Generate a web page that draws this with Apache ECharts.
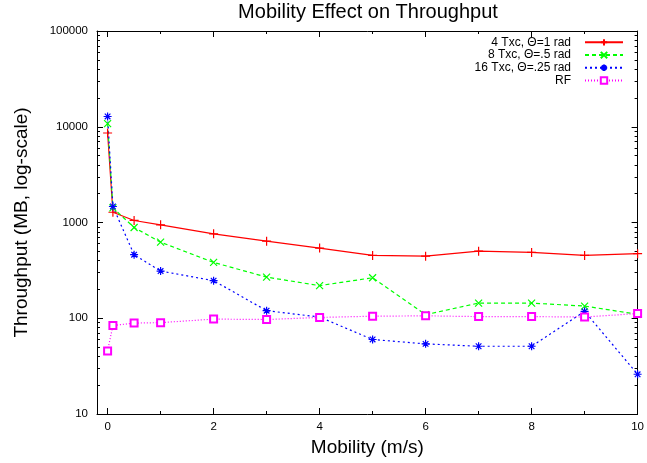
<!DOCTYPE html>
<html>
<head>
<meta charset="utf-8">
<script src="https://cdn.jsdelivr.net/npm/echarts@6/dist/echarts.min.js"></script>
</head>
<body style="margin:0; background:#fff">
<div id="container" style="width:647px;height:463px;"></div>
<script>
// mobility (m/s)
var speed = [0, 0.1, 0.5, 1, 2, 3, 4, 5, 6, 7, 8, 9, 10];
// throughput (MB)
var txc4  = [8600, 1280, 1050, 946, 762, 638, 540, 453, 445, 502, 487, 453, 472];
var txc8  = [10800, 1420, 887, 623, 383, 269, 219, 265, 109, 144, 144, 134, 110];
var txc16 = [12800, 1470, 461, 311, 247, 120, 103, 60, 54, 51, 51, 118, 26];
var rf    = [45.6, 84, 89, 90, 98, 97, 102, 105, 106, 104, 104, 103, 112];
var names = ['4 Txc, \u0398=1 rad', '8 Txc, \u0398=.5 rad', '16 Txc, \u0398=.25 rad', 'RF'];
var xMajor = [0, 2, 4, 6, 8, 10];
var xMinor = [1, 3, 5, 7, 9];
// minor ticks of the log axis (MB)
var yMinor = [20, 30, 40, 50, 60, 70, 80, 90,
              200, 300, 400, 500, 600, 700, 800, 900,
              2000, 3000, 4000, 5000, 6000, 7000, 8000, 9000,
              20000, 30000, 40000, 50000, 60000, 70000, 80000, 90000];

var font = 'Liberation Sans, Arial, sans-serif';

function pairs(ys) {
    return speed.map(function (x, i) { return [x, ys[i]]; });
}

function xAx(pos, ticks, len, labels, withLine) {
    return {
        type: 'value', min: -0.2, max: 10, position: pos,
        axisLine: { show: withLine, onZero: false, lineStyle: { color: '#000', width: 1 } },
        axisTick: { show: true, inside: true, length: len, customValues: ticks, lineStyle: { color: '#000' } },
        axisLabel: labels ? { show: true, customValues: xMajor, fontSize: 11.5, color: '#000', fontFamily: font, margin: 7 } : { show: false },
        splitLine: { show: false }
    };
}

function yAx(pos, labels) {
    return {
        type: 'log', logBase: 10, min: 10, max: 100000, position: pos,
        axisLine: { show: true, onZero: false, lineStyle: { color: '#000', width: 1 } },
        axisTick: { show: true, inside: true, length: 6, lineStyle: { color: '#000' } },
        axisLabel: labels ? {
            show: true, fontSize: 11.5, color: '#000', fontFamily: font, margin: 9,
            formatter: function (v) { return String(Math.round(v)); }
        } : { show: false },
        splitLine: { show: false }
    };
}

// helper axis carrying the minor ticks of the log scale (log10 space)
function yMinorAx(pos) {
    return {
        type: 'value', min: 1, max: 5, position: pos,
        axisLine: { show: false, onZero: false },
        axisTick: { show: true, inside: true, length: 3, lineStyle: { color: '#000' },
                    customValues: yMinor.map(function (v) { return Math.log10(v); }) },
        axisLabel: { show: false },
        splitLine: { show: false }
    };
}

var xMain = xAx('bottom', xMajor, 6, true, true);
xMain.name = 'Mobility (m/s)';
xMain.nameLocation = 'middle';
xMain.nameGap = 20;
xMain.nameTextStyle = { fontSize: 19, color: '#000', fontFamily: font };

var yMain = yAx('left', true);
yMain.name = 'Throughput (MB, log-scale)';
yMain.nameLocation = 'middle';
yMain.nameGap = 66;
yMain.nameTextStyle = { fontSize: 19, color: '#000', fontFamily: font };

var dom = document.getElementById('container');
var myChart = echarts.init(dom);

var option = {
    animation: false,
    backgroundColor: '#fff',
    title: {
        text: 'Mobility Effect on Throughput',
        left: 368, top: 2, padding: 0, textAlign: 'center',
        textStyle: { fontSize: 20, fontWeight: 'normal', color: '#000', fontFamily: font }
    },
    legend: {
        orient: 'vertical', right: 23, top: 36, padding: 0,
        align: 'right', itemWidth: 38, itemHeight: 8, itemGap: 0,
        textStyle: { fontSize: 12, lineHeight: 12.7, color: '#000', fontFamily: font, padding: [0, 9, 0, 0] },
        data: names
    },
    grid: { left: 97, right: 7, top: 31, bottom: 49 },
    xAxis: [
        xMain,
        xAx('bottom', xMinor, 3, false, false),
        xAx('top', xMajor, 6, false, true),
        xAx('top', xMinor, 3, false, false)
    ],
    yAxis: [yMain, yAx('right', false), yMinorAx('left'), yMinorAx('right')],
    series: [
        {
            name: names[0], type: 'line', data: pairs(txc4),
            symbol: 'path://M0,5L10,5M5,0L5,10', symbolSize: 9,
            lineStyle: { color: '#ff0000', width: 1.2, type: 'solid' },
            itemStyle: { color: '#ff0000', borderColor: '#ff0000', borderWidth: 1.2 }
        },
        {
            name: names[1], type: 'line', data: pairs(txc8),
            symbol: 'path://M0,0L10,10M10,0L0,10', symbolSize: 7,
            lineStyle: { color: '#00ff00', width: 1.2, type: [4, 3] },
            itemStyle: { color: '#00ff00', borderColor: '#00ff00', borderWidth: 1.2 }
        },
        {
            name: names[2], type: 'line', data: pairs(txc16),
            symbol: 'path://M0,5L10,5M5,0L5,10M1.5,1.5L8.5,8.5M8.5,1.5L1.5,8.5', symbolSize: 8,
            lineStyle: { color: '#0000ff', width: 1.2, type: [2, 3] },
            itemStyle: { color: '#0000ff', borderColor: '#0000ff', borderWidth: 1.2 }
        },
        {
            name: names[3], type: 'line', data: pairs(rf),
            symbol: 'emptyRect', symbolSize: 7,
            lineStyle: { color: '#ff00ff', width: 1.2, type: [1, 2] },
            itemStyle: { color: '#ff00ff', borderColor: '#ff00ff', borderWidth: 1.2 }
        }
    ]
};

if (option && typeof option === 'object') {
    myChart.setOption(option, true);
}
</script>
</body>
</html>
